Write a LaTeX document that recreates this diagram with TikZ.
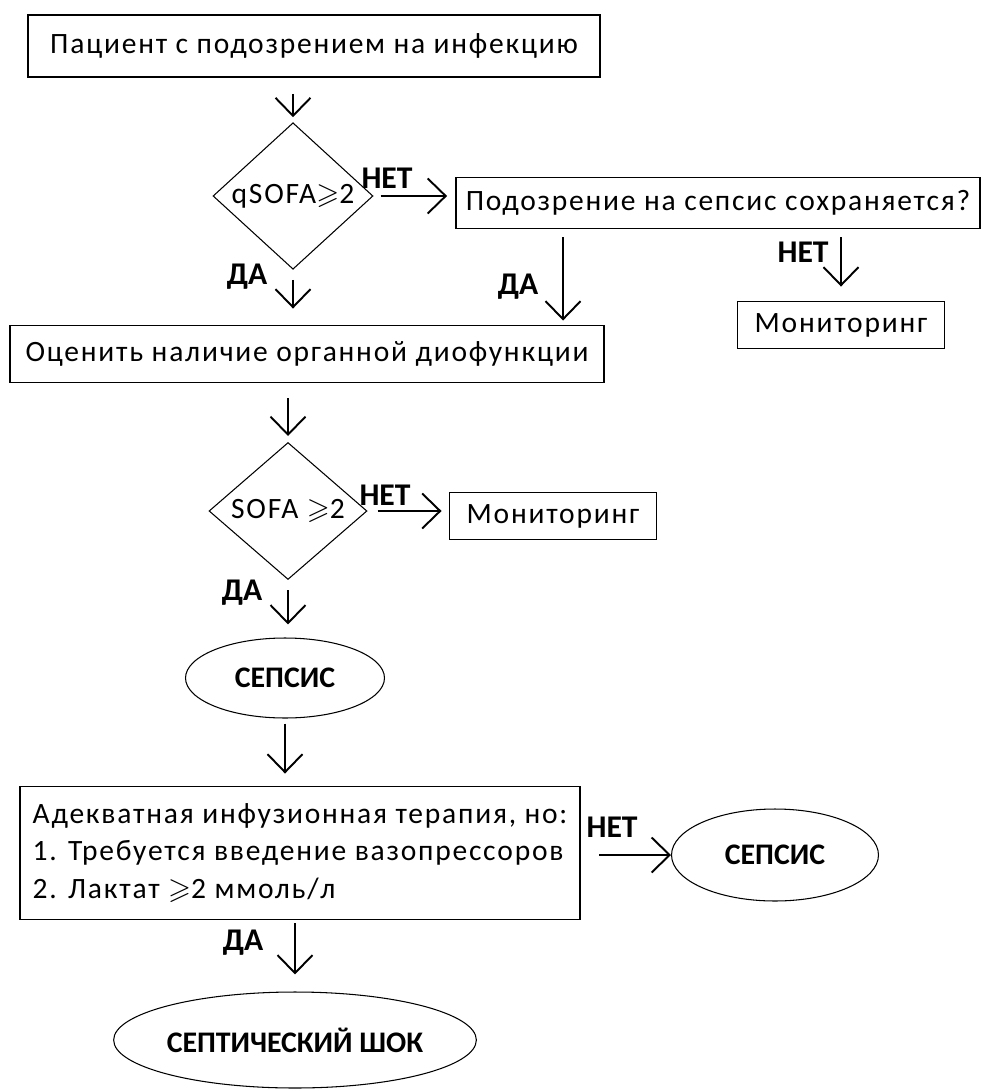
\documentclass[tikz,border=0pt]{standalone}
\usepackage{amssymb}
\usepackage{fontspec}
\setmainfont{Carlito}
\newfontfamily\txtfont{Carlito}[LetterSpace=6]
\usetikzlibrary{shapes.geometric,arrows.meta}
\begin{document}
\begin{tikzpicture}[x=0.02cm,y=-0.02cm,
		box/.style={draw,line width=1.1pt,inner sep=0pt,font=\txtfont\fontsize{16.8}{20}\selectfont},
		test/.style={draw,diamond,line width=0.6pt,inner sep=0pt,font=\txtfont\fontsize{16.8}{20}\selectfont},
		oval/.style={draw,ellipse,line width=0.6pt,inner sep=0pt,font=\bfseries\fontsize{17}{20}\selectfont},
		lbl/.style={font=\bfseries\fontsize{18}{21}\selectfont,inner sep=0pt},
		arr/.style={-{Straight Barb[length=0.36cm,width=0.7cm]},line width=1.1pt}]
	\useasboundingbox (0,0) rectangle (983,1091);
	\node[box,minimum width=11.44cm,minimum height=1.24cm] (start) at (314,46) {Пациент с подозрением на инфекцию};
	\node[test,minimum width=3.2cm,minimum height=2.1cm] (qsofa) at (293,196) {qSOFA$\geqslant$2};
	\node[box,minimum width=10.48cm,minimum height=1.02cm] (suspect) at (718,203) {Подозрение на сепсис сохраняется?};
	\node[box,minimum width=4.14cm,minimum height=0.94cm] (mon1) at (841,325) {Мониторинг};
	\node[box,minimum width=11.9cm,minimum height=1.14cm] (organ) at (307,354) {Оценить наличие органной диофункции};
	\node[test,minimum width=3.16cm,minimum height=2.14cm] (sofa) at (288,511) {SOFA $\geqslant$2};
	\node[box,minimum width=4.14cm,minimum height=0.94cm] (mon2) at (553,516) {Мониторинг};
	\node[oval,minimum width=3.98cm,minimum height=1.6cm] (sepsis1) at (285,678) {СЕПСИС};
	\node[box,minimum width=11.22cm,minimum height=2.66cm,align=left,font=\txtfont\fontsize{16.8}{19.5}\selectfont] (fluid) at (300,853) {Адекватная инфузионная терапия, но:\\[2pt]1. Требуется введение вазопрессоров\\[2pt]2. Лактат $\geqslant$2 ммоль/л};
	\node[oval,minimum width=4.14cm,minimum height=1.84cm] (sepsis2) at (775,855) {СЕПСИС};
	\node[oval,minimum width=7.08cm,minimum height=1.92cm] (shock) at (295,1040) {СЕПТИЧЕСКИЙ ШОК};

	\node[lbl] (no1) at (387,178) {НЕТ};
	\node[lbl] (yes1) at (247,277) {ДА};
	\node[lbl] (yes2) at (518,287) {ДА};
	\node[lbl] (no2) at (803,252) {НЕТ};
	\node[lbl] (no3) at (385,495) {НЕТ};
	\node[lbl] (yes3) at (242,593) {ДА};
	\node[lbl] (no4) at (612,827) {НЕТ};
	\node[lbl] (yes4) at (243,943) {ДА};

	\draw[arr,shorten <=0.32cm,shorten >=0.1cm] (qsofa.north |- start.south) -- (qsofa.north);
	\draw[arr,shorten <=0.14cm,shorten >=0.16cm] (qsofa.east) -- (suspect.west |- qsofa.east);
	\draw[arr,shorten <=0.2cm,shorten >=0.32cm] (qsofa.south) -- (qsofa.south |- organ.north);
	\draw[arr,shorten <=0.16cm,shorten >=0.08cm] ([xshift=-3.1cm]suspect.south) -- ([xshift=-3.1cm]suspect.south |- organ.north);
	\draw[arr,shorten <=0.16cm,shorten >=0.28cm] (mon1.north |- suspect.south) -- (mon1.north);
	\draw[arr,shorten <=0.3cm,shorten >=0.12cm] (sofa.north |- organ.south) -- (sofa.north);
	\draw[arr,shorten <=0.2cm,shorten >=0.14cm] (sofa.east) -- (mon2.west |- sofa.east);
	\draw[arr,shorten <=0.2cm,shorten >=0.26cm] (sofa.south) -- (sofa.south |- sepsis1.north);
	\draw[arr,shorten <=0.1cm,shorten >=0.24cm] (sepsis1.south) -- (sepsis1.south |- fluid.north);
	\draw[arr,shorten <=0.36cm] (fluid.east |- sepsis2.west) -- (sepsis2.west);
	\draw[arr,shorten <=0.06cm,shorten >=0.34cm] (shock.north |- fluid.south) -- (shock.north);
\end{tikzpicture}
\end{document}
